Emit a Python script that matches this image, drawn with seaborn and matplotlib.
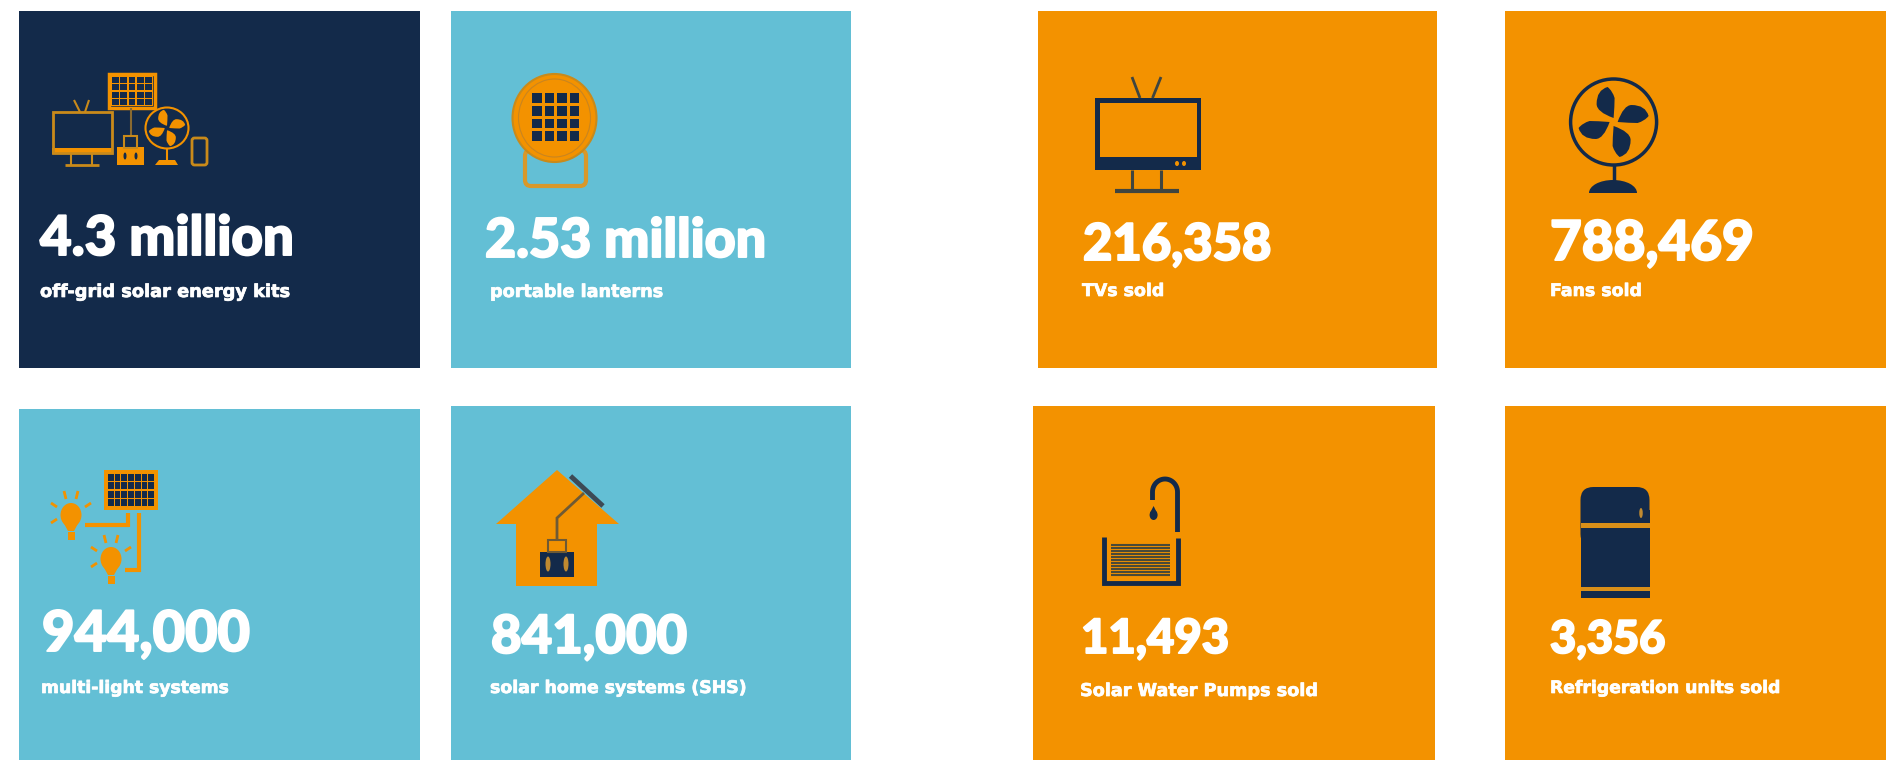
import numpy as np
import matplotlib
matplotlib.use("Agg")
import matplotlib.pyplot as plt
import matplotlib.patheffects as pe
from matplotlib.patches import Rectangle, Ellipse, Polygon, PathPatch, FancyBboxPatch
from matplotlib.path import Path
from matplotlib.transforms import Affine2D
import seaborn as sns

sns.set_theme(style="white")
plt.rcParams["font.family"] = ["Lato", "DejaVu Sans"]

NAVY, TEAL, ORANGE = "#132a4a", "#63bfd5", "#f39200"
DARK_OR = "#d9982a"

values = ["4.3 million", "2.53 million", "216,358", "788,469",
          "944,000", "841,000", "11,493", "3,356"]
labels = ["off-grid solar energy kits", "portable lanterns", "TVs sold", "Fans sold",
          "multi-light systems", "solar home systems (SHS)", "Solar Water Pumps sold",
          "Refrigeration units sold"]
panel_colors = [NAVY, TEAL, ORANGE, ORANGE, TEAL, TEAL, ORANGE, ORANGE]
panel_boxes = [(19, 11, 420, 368), (451, 11, 851, 368), (1038, 11, 1437, 368), (1505, 11, 1890, 368),
               (19, 409, 420, 765), (451, 406, 851, 765), (1033, 406, 1435, 765), (1505, 406, 1890, 765)]
value_pos = [(40, 255), (485, 257), (1083, 260), (1550, 260),
             (42, 651), (491, 653), (1081, 653), (1550, 653)]
label_pos = [(40, 297), (490, 297), (1082, 296), (1550, 296),
             (41, 693), (490, 693), (1080, 696), (1550, 693)]
value_size = [39.3, 38.7, 36.5, 39.5, 40.3, 38, 34, 32.5]
label_size = [12.8, 12.7, 12.5, 12.5, 12.4, 12.5, 12.7, 12.4]

fig = plt.figure(figsize=(18.86, 7.6), dpi=100)
ax = fig.add_axes([0, 0, 1, 1])
ax.set_xlim(0, 1886)
ax.set_ylim(760, 0)
ax.axis("off")
sns.despine(ax=ax, left=True, bottom=True)


def rect(x0, y0, x1, y1, fc, z=3, ec="none", lw=0):
    ax.add_patch(Rectangle((x0, y0), x1 - x0, y1 - y0, fc=fc, ec=ec, lw=lw, zorder=z))


def line(xs, ys, c, lw, z=4, cap="butt"):
    ax.plot(xs, ys, color=c, lw=lw, zorder=z, solid_capstyle=cap, solid_joinstyle="miter")


def grid(x0, y0, x1, y1, nx, ny, gap, c, z=5):
    cw = (x1 - x0 - gap * (nx - 1)) / nx
    ch = (y1 - y0 - gap * (ny - 1)) / ny
    for i in range(nx):
        for j in range(ny):
            rect(x0 + i * (cw + gap), y0 + j * (ch + gap),
                 x0 + i * (cw + gap) + cw, y0 + j * (ch + gap) + ch, c, z)


def fan(cx, cy, w, h, c, scale, ring_lw, hub_bg=None):
    ax.add_patch(Ellipse((cx, cy), w, h, fc="none", ec=c, lw=ring_lw, zorder=4))
    verts = [(0, -4), (1, -16), (1, -24), (-1, -31), (-6, -35), (-17, -32), (-17, -18), (-17, -10), (0, -4)]
    codes = [Path.MOVETO, Path.CURVE3, Path.CURVE3, Path.CURVE3, Path.CURVE3,
             Path.CURVE3, Path.CURVE3, Path.CURVE3, Path.CURVE3]
    for k in range(4):
        tr = Affine2D().scale(scale).rotate_deg(90 * k).translate(cx, cy)
        ax.add_patch(PathPatch(Path(verts, codes), fc=c, ec="none", zorder=5,
                               transform=tr + ax.transData))
    ax.add_patch(Ellipse((cx, cy), 6 * scale, 6 * scale, fc="none", ec=hub_bg or c, lw=1.0, zorder=5))


def bulb(cx, top, c):
    ax.add_patch(Ellipse((cx, top + 12), 21, 24, fc=c, ec="none", zorder=4))
    ax.add_patch(Polygon([(cx - 9, top + 17), (cx + 9, top + 17), (cx + 3, top + 28), (cx - 3, top + 28)],
                         fc=c, ec="none", zorder=4))
    rect(cx - 3.5, top + 29, cx + 3.5, top + 37, c)
    rays = [((-7, -12), (-5, -4)), ((7, -12), (5, -4)), ((-20, 0), (-14, 4)),
            ((20, 0), (14, 4)), ((-20, 20), (-14, 16))]
    for p, q in rays:
        line([cx + p[0], cx + q[0]], [top + p[1], top + q[1]], c, 2)


# panels -------------------------------------------------------------------
for (x0, y0, x1, y1), c in zip(panel_boxes, panel_colors):
    rect(x0, y0, x1, y1, c, z=1)

# icon 1: kit ---------------------------------------------------------------
rect(109, 74, 155, 108, NAVY, ec=ORANGE, lw=2.5)
rect(111, 76, 153, 106, ORANGE, z=4)
grid(112, 77, 152, 105, 5, 4, 1.6, NAVY, z=5)
line([74, 80], [100, 112], "#c98a1a", 1.5)
line([89, 85], [100, 112], "#c98a1a", 1.5)
ax.add_patch(Rectangle((53, 112), 59, 41, fc="none", ec="#c98a1a", lw=2, zorder=4))
rect(52, 148, 113, 154, ORANGE)
line([71, 71], [154, 165], "#c98a1a", 1.5)
line([92, 92], [154, 165], "#c98a1a", 1.5)
line([65, 99], [165, 165], "#c98a1a", 2)
line([130.5, 130.5], [108, 137], "#8a6a30", 1.5)
ax.add_patch(Rectangle((124, 136), 13, 12, fc="none", ec="#c98a1a", lw=1.5, zorder=4))
rect(117, 147, 144, 165, ORANGE)
ax.add_patch(Ellipse((125, 156), 3, 7, fc=NAVY, ec="none", zorder=5))
ax.add_patch(Ellipse((136, 156), 3, 7, fc=NAVY, ec="none", zorder=5))
fan(167, 128, 43, 41, ORANGE, 0.52, 1.5, hub_bg=NAVY)
line([167, 167], [149, 160], ORANGE, 1.5)
ax.add_patch(Polygon([(155, 165), (159, 160), (175, 160), (178, 165)], fc=ORANGE, ec="none", zorder=4))
ax.add_patch(FancyBboxPatch((192, 138), 15, 27, boxstyle="round,pad=0,rounding_size=2.5",
                            fc="none", ec="#c98a1a", lw=2, zorder=4))

# icon 2: lantern ------------------------------------------------------------
ax.add_patch(FancyBboxPatch((525, 150), 61, 36, boxstyle="round,pad=0,rounding_size=6",
                            fc="none", ec=DARK_OR, lw=3, zorder=3))
ax.add_patch(Ellipse((554.5, 118), 84, 88, fc=ORANGE, ec="#c98a1a", lw=1.5, zorder=4))
ax.add_patch(Ellipse((554.5, 118), 72, 78, fc="none", ec="#c98520", lw=0.8, zorder=5))
grid(532, 93, 579, 141, 4, 4, 3, NAVY)

# icon 3: TV -----------------------------------------------------------------
rect(1094.5, 98, 1200.5, 170, NAVY)
rect(1100, 103, 1197, 157, ORANGE, z=5)
line([1132, 1140], [77, 98], "#3f4540", 2)
line([1161, 1152.5], [77, 98], "#3f4540", 2)
for xd in (1177, 1184):
    ax.add_patch(Ellipse((xd, 163.5), 4, 5, fc=ORANGE, ec="none", zorder=5))
line([1132, 1132], [170, 190], "#3f4540", 2.2)
line([1161, 1161], [170, 190], "#3f4540", 2.2)
line([1115, 1179], [191, 191], "#3f4540", 3)

# icon 4: fan ----------------------------------------------------------------
fan(1613.6, 122, 86, 86, NAVY, 1.0, 2.5, hub_bg=ORANGE)
line([1613.6, 1613.6], [165, 182], NAVY, 2.5)
ax.add_patch(Ellipse((1613, 193), 48, 26, fc=NAVY, ec="none", zorder=4))
rect(1585, 193, 1642, 207, ORANGE, z=4.5)

# icon 5: lights --------------------------------------------------------------
rect(104, 470, 158, 510, ORANGE)
grid(108, 474, 154, 506, 7, 4, 1.2, NAVY)
bulb(71, 503, ORANGE)
bulb(111, 547, ORANGE)
line([85, 129], [525, 525], ORANGE, 3)
line([128, 128], [513, 527], ORANGE, 3)
line([125, 139, 139], [570, 570, 513], ORANGE, 3)

# icon 6: house ---------------------------------------------------------------
ax.add_patch(Polygon([(557, 470), (619, 524), (597, 524), (597, 586), (516, 586), (516, 524), (496, 524)],
                     fc=ORANGE, ec="none", zorder=3))
line([570.5, 603], [476, 506], "#3d4a55", 3.5)
line([584, 557, 557], [493, 518, 540], "#6e5a35", 2)
ax.add_patch(Rectangle((548, 540), 18, 12, fc="none", ec="#6e5a35", lw=1.5, zorder=4))
rect(540, 552, 574, 577, NAVY)
for xd in (548, 566):
    ax.add_patch(Ellipse((xd, 564), 5, 15, fc="#c08a30", ec="none", zorder=5))

# icon 7: tap -----------------------------------------------------------------
line([1104, 1104, 1178, 1178], [537, 583, 583, 538], NAVY, 3.5)
for yy in range(545, 578, 3):
    line([1111, 1170], [yy, yy], "#4a4a38", 1.5)
theta = np.linspace(np.pi, 0, 30)
arc_x = 1165 + 12.5 * np.cos(theta)
arc_y = 492 - 13 * np.sin(theta)
line(np.r_[1152.5, arc_x, 1177.5], np.r_[500, arc_y, 532], NAVY, 3.5)
ax.add_patch(Ellipse((1153.6, 515), 8, 10, fc=NAVY, ec="none", zorder=4))
ax.add_patch(Polygon([(1150, 513), (1157, 513), (1153.6, 506)], fc=NAVY, ec="none", zorder=4))

# icon 8: fridge --------------------------------------------------------------
ax.add_patch(FancyBboxPatch((1580.5, 487), 69, 60, boxstyle="round,pad=0,rounding_size=13",
                            fc=NAVY, ec="none", zorder=3))
rect(1580.5, 510, 1649.5, 598, NAVY)
rect(1580.5, 523, 1649.5, 528, "#d98f18", z=4)
rect(1580.5, 587, 1649.5, 591, "#d98f18", z=4)
ax.add_patch(Ellipse((1641, 513), 3.5, 10, fc="#c08a30", ec="none", zorder=4))

# texts -----------------------------------------------------------------------
stroke = [pe.withStroke(linewidth=1.4, foreground="white")]
thin = [pe.withStroke(linewidth=0.5, foreground="white")]
for v, l, vp, lp, vs, ls in zip(values, labels, value_pos, label_pos, value_size, label_size):
    ax.text(vp[0], vp[1], v, color="white", fontsize=vs, fontweight="black", va="baseline", ha="left",
            zorder=10, path_effects=stroke)
    ax.text(lp[0], lp[1], l, color="white", fontsize=ls, family="DejaVu Sans", fontweight="bold",
            va="baseline", ha="left", zorder=10, path_effects=thin)

fig.savefig("out.png", dpi=100, facecolor="white")
